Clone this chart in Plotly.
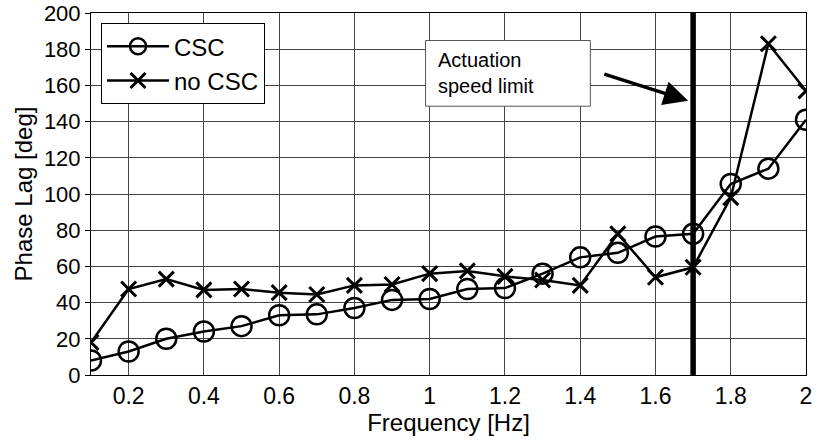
import plotly.graph_objects as go

freq = [0.1, 0.2, 0.3, 0.4, 0.5, 0.6, 0.7, 0.8, 0.9, 1.0,
        1.1, 1.2, 1.3, 1.4, 1.5, 1.6, 1.7, 1.8, 1.9, 2.0]
csc = [8, 13, 20, 24, 27, 33, 33.5, 37, 41.5, 42,
       47.5, 48, 56, 65, 67.5, 76.5, 78, 105.5, 114, 141]
no_csc = [18, 47.5, 53, 47, 47.5, 45.5, 44.5, 49.5, 50, 56,
          57.5, 54.5, 52.5, 49.5, 78, 54, 59.5, 98, 183, 157]
limit_freq = 1.7
y_range = [0, 200]
x_ticks = [0.2, 0.4, 0.6, 0.8, 1, 1.2, 1.4, 1.6, 1.8, 2]
x_tick_labels = ["0.2", "0.4", "0.6", "0.8", "1", "1.2", "1.4", "1.6", "1.8", "2"]
y_ticks = [0, 20, 40, 60, 80, 100, 120, 140, 160, 180, 200]

FONT = "Liberation Sans, Arial, sans-serif"

fig = go.Figure()
fig.add_trace(go.Scatter(
    x=[limit_freq, limit_freq], y=y_range, mode="lines",
    line=dict(color="black", width=5.5), showlegend=False, hoverinfo="skip"))
fig.add_trace(go.Scatter(
    x=freq, y=csc, mode="lines+markers", name="CSC",
    line=dict(color="black", width=2.5),
    marker=dict(symbol="circle-open", size=20, color="black",
                line=dict(color="black", width=2.5))))
fig.add_trace(go.Scatter(
    x=freq, y=no_csc, mode="lines+markers", name="no CSC",
    line=dict(color="black", width=2.5),
    marker=dict(symbol="x-thin-open", size=15, color="black",
                line=dict(color="black", width=3))))

# annotation box
fig.add_shape(type="rect", xref="x", yref="y",
              x0=0.989, x1=1.427, y0=148.5, y1=184.8,
              line=dict(color="#555555", width=1), fillcolor="white", layer="above")
fig.add_annotation(x=1.018, y=166.6, xref="x", yref="y", xanchor="left", yanchor="middle",
                   text="Actuation<br>speed limit", showarrow=False, align="left",
                   font=dict(family=FONT, size=20, color="black"))
fig.add_annotation(x=1.687, y=151.5, ax=1.46, ay=166.5, xref="x", yref="y",
                   axref="x", ayref="y", text="", showarrow=True,
                   arrowhead=2, arrowsize=1.4, arrowwidth=3.5, arrowcolor="black")

fig.update_layout(
    width=820, height=444,
    margin=dict(l=91, r=14, t=13, b=69, autoexpand=False),
    paper_bgcolor="white", plot_bgcolor="white",
    font=dict(family=FONT, size=24, color="black"),
    showlegend=True,
    legend=dict(x=0.014, y=0.972, xanchor="left", yanchor="top",
                bgcolor="white", bordercolor="black", borderwidth=1,
                font=dict(family=FONT, size=24, color="black"),
                itemwidth=62, tracegroupgap=0),
    xaxis=dict(range=[0.1, 2], tickvals=x_ticks, ticktext=x_tick_labels,
               showgrid=True, gridcolor="#444444", gridwidth=1,
               showline=True, linecolor="black", linewidth=1, mirror=True,
               ticks="", zeroline=False, automargin=False,
               ticklabeloverflow="allow",
               title=dict(text="Frequency [Hz]", standoff=2, font=dict(size=24)),
               tickfont=dict(size=23)),
    yaxis=dict(range=y_range, tickvals=y_ticks,
               showgrid=True, gridcolor="#444444", gridwidth=1,
               showline=True, linecolor="black", linewidth=1, mirror=True,
               ticks="outside", ticklen=5, tickcolor="black", zeroline=False,
               automargin=False, ticklabeloverflow="allow",
               title=dict(text="Phase Lag [deg]", standoff=4, font=dict(size=24)),
               tickfont=dict(size=22)),
)

fig.write_html("out.html", config={"displayModeBar": False},
               post_script="document.body.style.margin='0';")
